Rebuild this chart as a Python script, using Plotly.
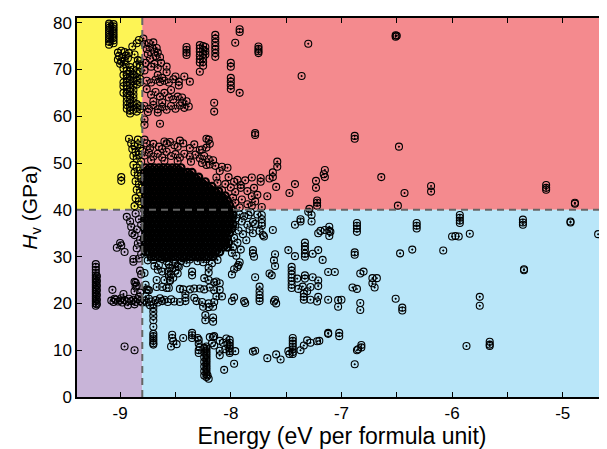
import plotly.graph_objects as go

# ---------------- data (energy in eV per formula unit, Hv in GPa) ----------------
E_CUT = -8.8
HV_CUT = 40.0
X_RANGE = [-9.39, -4.6]
Y_RANGE = [0, 81]
x_tick_vals = [-9, -8, -7, -6, -5]
x_tick_text = ["-9", "-8", "-7", "-6", "-5"]
y_tick_vals = [0, 10, 20, 30, 40, 50, 60, 70, 80]
y_tick_text = ["0", "10", "20", "30", "40", "50", "60", "70", "80"]

# stacked columns: (energy, [hardness values])
columns = [
    (-9.10, [75.3, 75.9, 76.4, 76.9, 77.4, 77.9, 78.4, 78.9, 79.4, 79.8]),
    (-9.06, [75.6, 76.2, 76.7, 77.2, 77.7, 78.2, 78.7, 79.2, 79.7]),
    (-8.97, [70.2, 68.8, 67.2, 66.4, 65.0]),
    (-8.94, [69.8, 69.0, 68.1, 67.3, 66.6, 65.8, 64.9, 64.1, 63.2, 62.4, 61.6]),
    (-8.91, [70.5, 69.6, 68.5, 67.8, 66.9, 66.0, 65.3, 64.4, 63.6, 62.8, 62.0, 61.2, 60.6]),
    (-8.88, [70.0, 68.9, 68.2, 67.5, 66.5, 65.6, 64.7, 63.9, 63.0, 62.2, 61.4]),
    (-8.85, [71.0, 69.2, 68.4, 67.6, 66.8, 62.6, 61.8, 61.0]),
    (-8.82, [71.8, 70.8, 69.5, 68.0, 67.2, 62.2, 61.5]),
    (-8.40, [74.8, 74.2, 73.6, 73.1]),
    (-8.28, [75.2, 74.5, 73.8, 73.0, 72.2, 71.5]),
    (-8.25, [75.0, 74.2, 73.3, 72.4, 71.6, 70.8]),
    (-8.23, [74.8, 73.9, 73.2]),
    (-8.14, [77.4, 76.6, 75.8, 75.0, 74.3, 73.5, 72.7]),
    (-7.75, [74.9, 74.4, 73.9, 73.5]),
    (-8.00, [71.4, 70.6, 68.2, 67.4, 66.6, 65.8]),
    (-9.22, [19.5, 20.0, 20.5, 21.0, 21.5, 22.0, 22.5, 23.0, 23.5, 24.0, 24.5,
             25.0, 25.5, 26.0, 26.6, 27.2, 27.8, 28.4]),
    (-9.21, [19.8, 20.8, 21.8, 22.8, 23.8, 24.8, 25.8]),
    (-8.70, [19.8, 19.0, 18.2, 17.3, 16.4, 15.0, 13.5, 13.0, 12.5, 12.0, 11.5, 11.2]),
    (-8.22, [10.8, 10.3, 9.8, 9.3, 8.8, 8.3, 7.8, 7.3, 6.8, 6.3, 5.8, 5.3, 4.8, 4.3]),
    (-8.24, [10.5, 9.5, 8.5, 7.5, 6.5, 5.5, 4.6]),
    (-8.01, [12.2, 11.6, 11.0, 10.4, 9.8, 9.4]),
    (-7.74, [23.6, 22.6, 21.8, 21.1, 20.5]),
    (-7.44, [12.6, 12.0, 11.4, 10.8, 10.2, 9.6, 9.2]),
    (-7.72, [38.9, 38.0, 37.2, 36.6]),
    (-7.33, [33.0, 32.2, 31.5, 30.6, 30.0]),
    (-7.11, [36.4, 35.5, 34.4]),
    (-7.45, [27.8, 27.0, 26.2, 25.5, 24.8, 24.0, 23.3]),
    (-6.86, [37.2, 36.6, 36.0, 35.3]),
    (-6.32, [37.2, 36.6, 36.0]),
    (-5.93, [38.9, 38.3, 37.7, 37.2]),
    (-5.36, [37.9, 37.3, 36.8]),
]

# high hardness, very low energy (yellow quadrant)
yellow_points = [
    (-9.02, 73.6), (-8.99, 74.0), (-8.96, 73.7), (-9.01, 72.9), (-8.98, 72.6), (-8.95, 72.9),
    (-9.02, 72.1), (-8.99, 71.7), (-8.96, 71.9), (-8.93, 72.4), (-9.00, 71.2), (-8.95, 71.1),
    (-8.92, 73.5), (-8.89, 74.9), (-8.85, 75.6), (-8.83, 76.3), (-8.87, 73.2), (-8.84, 72.0),
    (-8.92, 55.2), (-8.90, 54.2), (-8.87, 53.6), (-8.84, 54.0), (-8.82, 53.2), (-8.89, 53.0),
    (-8.86, 52.4), (-8.83, 51.8), (-8.80, 52.6), (-8.88, 51.5), (-8.85, 50.9), (-8.81, 50.3),
    (-8.84, 55.0), (-8.99, 47.0), (-8.99, 46.2),
    (-8.88, 49.6), (-8.85, 49.0), (-8.82, 48.4), (-8.87, 48.0), (-8.84, 47.3), (-8.81, 46.6),
    (-8.86, 46.1), (-8.83, 45.4), (-8.80, 44.8), (-8.85, 44.3), (-8.82, 43.7), (-8.86, 42.5),
    (-8.83, 41.8), (-8.81, 41.2), (-8.87, 40.8),
]

# high hardness (red quadrant), outside the dense cloud
red_points = [
    (-8.79, 76.6), (-8.78, 75.5), (-8.76, 74.4), (-8.75, 73.3), (-8.73, 72.3), (-8.74, 75.6),
    (-8.71, 74.7), (-8.69, 73.8), (-8.68, 72.9), (-8.66, 73.6), (-8.64, 72.6), (-8.77, 71.4),
    (-8.72, 70.6), (-8.69, 71.2), (-8.66, 70.3), (-8.78, 69.8), (-8.63, 71.4), (-8.70, 75.8),
    (-8.67, 74.6), (-8.58, 70.6), (-8.58, 69.4),
    (-8.42, 68.5), (-8.37, 67.4), (-8.47, 67.4), (-8.47, 66.6), (-8.44, 64.0), (-8.44, 62.9),
    (-8.40, 63.2), (-8.28, 69.5), (-8.15, 62.9), (-8.15, 61.0),
    (-7.92, 78.6), (-7.92, 78.0), (-7.96, 75.7), (-7.92, 65.0),
    (-7.30, 75.5), (-7.36, 68.6), (-6.51, 77.3), (-6.51, 77.0), (-6.50, 77.2),
    (-7.78, 56.4), (-7.78, 56.0), (-6.88, 55.8), (-6.88, 55.2), (-6.48, 53.5),
    (-8.76, 67.6), (-8.72, 67.2), (-8.68, 67.8), (-8.64, 67.3), (-8.60, 67.6), (-8.56, 67.2),
    (-8.52, 67.9), (-8.50, 68.5), (-8.66, 68.8), (-8.62, 68.2),
    (-8.76, 65.8), (-8.72, 64.6), (-8.68, 65.2), (-8.64, 64.2), (-8.60, 65.0), (-8.56, 64.0),
    (-8.52, 63.6), (-8.70, 63.2), (-8.62, 63.0), (-8.48, 64.2), (-8.54, 65.6),
    (-8.78, 62.2), (-8.74, 61.6), (-8.70, 62.4), (-8.66, 61.5), (-8.62, 62.0), (-8.58, 61.4),
    (-8.54, 62.2), (-8.50, 61.6), (-8.46, 62.3), (-8.42, 61.8), (-8.38, 62.1), (-8.75, 60.9),
    (-8.66, 60.8), (-8.78, 59.3), (-8.78, 58.2), (-8.64, 58.4),
    (-8.78, 55.0), (-8.76, 54.2), (-8.70, 54.1), (-8.65, 53.5), (-8.60, 54.6), (-8.58, 54.2),
    (-8.55, 54.5), (-8.51, 53.8), (-8.48, 53.5), (-8.46, 54.8), (-8.43, 54.2), (-8.37, 53.2),
    (-8.33, 54.0), (-8.28, 52.8), (-8.20, 55.0), (-8.22, 55.2), (-8.22, 53.3), (-8.19, 54.1),
    (-8.26, 52.9), (-8.73, 53.2), (-8.62, 53.0),
    (-8.78, 51.6), (-8.74, 52.2), (-8.70, 51.4), (-8.66, 52.0), (-8.62, 51.2), (-8.58, 52.4),
    (-8.54, 51.5), (-8.50, 51.9), (-8.46, 51.2), (-8.42, 52.0), (-8.37, 51.4), (-8.32, 51.8),
    (-8.28, 51.0), (-8.24, 51.5), (-8.20, 50.8), (-8.16, 50.6), (-8.72, 50.6), (-8.60, 50.5),
    (-8.48, 50.4), (-8.36, 50.3),
    (-8.26, 50.0), (-8.22, 49.6), (-8.19, 49.7), (-8.14, 49.4), (-8.08, 49.2), (-8.03, 49.0),
    (-8.10, 48.3), (-8.13, 46.9), (-8.02, 47.0), (-7.97, 46.0), (-7.94, 46.4), (-7.91, 45.3),
    (-7.91, 44.7), (-7.87, 46.3), (-7.81, 46.9), (-7.79, 44.7), (-7.73, 46.8), (-7.73, 46.0),
    (-7.65, 46.7), (-7.62, 48.0), (-7.62, 47.0), (-7.59, 44.9), (-7.58, 50.3), (-7.58, 49.2),
    (-7.96, 43.8), (-7.98, 42.6), (-8.05, 45.5), (-8.08, 44.2), (-8.12, 45.8), (-8.00, 44.8),
    (-7.85, 44.0), (-7.47, 43.6), (-7.42, 45.5), (-7.23, 46.2), (-7.23, 44.7), (-7.15, 48.5),
    (-7.16, 47.6), (-7.15, 47.0), (-7.67, 42.9), (-7.76, 43.2), (-7.81, 42.9), (-7.81, 40.9),
    (-7.22, 42.0), (-7.22, 41.5), (-7.22, 40.9), (-7.29, 40.2),
    (-7.96, 41.5), (-7.90, 42.2), (-7.85, 41.2), (-7.78, 41.8), (-7.72, 40.6), (-7.92, 40.5),
    (-6.64, 47.0), (-6.43, 43.6), (-6.19, 45.1), (-6.19, 43.9), (-6.49, 40.9),
    (-5.15, 45.3), (-5.15, 44.7), (-5.15, 44.3), (-4.89, 41.5), (-4.89, 41.3),
]

# low hardness, very low energy (purple quadrant)
purple_points = [
    (-9.08, 20.6), (-9.06, 20.3), (-9.04, 20.8), (-9.02, 20.4), (-9.00, 20.6), (-8.98, 20.2),
    (-8.96, 20.7), (-8.94, 20.4), (-8.92, 21.0), (-8.90, 20.5), (-8.88, 20.8), (-8.86, 20.3),
    (-8.84, 20.9), (-8.82, 20.5), (-8.80, 20.2), (-9.05, 21.0), (-8.99, 21.1), (-8.93, 19.6),
    (-8.87, 19.8), (-8.83, 21.4),
    (-9.07, 22.9), (-8.97, 22.0), (-8.86, 24.4), (-8.86, 23.6), (-8.88, 28.9), (-8.88, 29.5),
    (-8.96, 10.8), (-8.87, 10.0), (-8.91, 37.5), (-8.90, 36.4), (-8.89, 35.0), (-8.87, 34.6),
    (-9.00, 32.9), (-9.03, 31.9), (-8.99, 32.4), (-8.96, 31.0), (-8.85, 31.8), (-8.86, 39.2),
    (-8.94, 38.5), (-8.85, 35.8), (-8.83, 38.0), (-8.81, 36.8), (-8.82, 33.6), (-8.84, 32.8),
    (-8.81, 30.5), (-8.83, 29.6), (-8.82, 27.0), (-8.81, 26.2), (-8.87, 22.6), (-8.82, 22.3),
    (-8.87, 24.6), (-8.85, 23.8),
]

# low hardness (blue quadrant), outside the dense cloud
blue_points = [
    (-8.78, 26.5), (-8.77, 24.0), (-8.76, 23.0), (-8.74, 22.8), (-8.75, 29.2), (-8.70, 29.3),
    (-8.69, 28.0), (-8.65, 28.2), (-8.67, 25.0), (-8.62, 26.8), (-8.60, 25.0), (-8.59, 29.7),
    (-8.58, 23.3), (-8.62, 23.5), (-8.56, 23.3), (-8.55, 25.0), (-8.53, 27.5), (-8.50, 28.6),
    (-8.48, 26.4), (-8.46, 23.1), (-8.43, 23.0), (-8.37, 23.0), (-8.33, 23.2), (-8.28, 23.2),
    (-8.24, 23.0), (-8.19, 23.4), (-8.15, 22.8), (-8.10, 22.9), (-8.41, 22.0), (-8.41, 21.2),
    (-8.41, 20.5), (-8.31, 20.5), (-8.33, 21.2), (-8.35, 26.8), (-8.35, 26.0), (-8.20, 27.6),
    (-8.20, 26.6), (-8.24, 25.4), (-8.20, 25.0), (-8.13, 24.7), (-8.10, 24.3), (-8.15, 24.5),
    (-7.99, 26.2), (-7.97, 27.3), (-7.93, 28.2), (-7.92, 28.8), (-7.94, 27.8),
    (-8.58, 29.0), (-8.56, 28.3), (-8.55, 27.6), (-8.57, 26.8), (-8.54, 26.2), (-8.52, 25.5),
    (-8.56, 25.8), (-8.50, 27.0), (-8.48, 28.0), (-8.45, 29.0), (-8.47, 27.8), (-8.52, 29.4),
    (-8.62, 29.5), (-8.66, 27.2), (-8.42, 29.6), (-8.40, 28.6), (-8.37, 29.4), (-8.30, 29.0),
    (-8.25, 28.8), (-8.22, 29.5), (-8.17, 28.6), (-8.12, 29.3),
    (-8.78, 20.6), (-8.76, 20.2), (-8.74, 21.0), (-8.72, 20.4), (-8.68, 20.7), (-8.66, 20.2),
    (-8.64, 21.1), (-8.62, 20.5), (-8.60, 20.8), (-8.57, 20.3), (-8.54, 20.9), (-8.51, 20.4),
    (-8.77, 21.5), (-8.73, 19.6),
    (-8.75, 22.9), (-8.67, 23.5), (-8.55, 24.8), (-8.46, 20.3), (-8.26, 20.3), (-8.25, 19.3),
    (-8.20, 20.0), (-8.20, 19.2), (-8.16, 19.3), (-8.23, 17.5), (-8.23, 16.4), (-8.16, 17.0),
    (-8.16, 16.1), (-8.15, 20.3), (-8.13, 21.5), (-8.08, 21.5), (-7.99, 20.5), (-7.97, 21.3),
    (-7.87, 20.1), (-7.88, 20.5),
    (-7.61, 20.4), (-7.60, 20.8), (-7.59, 20.0), (-7.78, 25.6), (-7.65, 26.4), (-7.63, 26.0),
    (-7.80, 31.4), (-7.80, 30.7), (-7.79, 30.0), (-7.60, 30.5), (-7.61, 29.2), (-7.60, 28.0),
    (-8.53, 13.3), (-8.53, 12.6), (-8.52, 11.9), (-8.54, 10.8), (-8.49, 11.3), (-8.43, 12.6),
    (-8.35, 13.7), (-8.35, 13.2), (-8.35, 12.6), (-8.30, 12.6), (-8.29, 12.2), (-8.29, 11.4),
    (-8.28, 10.6), (-8.29, 10.0), (-8.29, 9.4), (-8.20, 3.9), (-8.21, 4.6),
    (-8.19, 12.8), (-8.16, 12.8), (-8.17, 11.5), (-8.15, 13.0), (-8.15, 11.0), (-8.10, 12.0),
    (-8.07, 11.6), (-8.05, 10.2), (-8.04, 12.5), (-8.03, 11.3),
    (-7.96, 9.8), (-8.06, 5.8), (-7.97, 7.1), (-8.10, 9.9), (-8.10, 8.9), (-7.80, 9.7),
    (-7.78, 9.9), (-7.67, 8.3), (-7.59, 9.1), (-7.55, 8.0), (-7.47, 9.2),
    (-7.48, 9.8), (-7.37, 10.0), (-7.34, 11.0), (-7.31, 12.1), (-7.28, 11.6), (-7.22, 11.9),
    (-7.20, 12.0), (-7.12, 13.7), (-7.12, 13.5), (-7.02, 13.7), (-7.02, 13.0), (-6.86, 10.0),
    (-6.85, 10.2), (-6.82, 11.1), (-6.82, 10.6), (-6.88, 7.0), (-5.87, 10.9), (-5.66, 11.8),
    (-5.66, 11.2), (-5.66, 10.9),
    (-7.80, 37.4), (-7.78, 37.0), (-7.62, 35.7), (-7.80, 35.0), (-7.71, 34.6), (-7.70, 34.3),
    (-7.42, 36.8), (-7.37, 38.0), (-7.37, 37.5), (-7.30, 39.6), (-7.27, 38.9), (-7.27, 37.5),
    (-7.48, 31.4), (-7.42, 30.1), (-7.26, 30.6), (-7.21, 31.4), (-7.17, 29.3), (-7.19, 35.5),
    (-7.15, 35.7), (-7.21, 35.0), (-7.10, 35.3),
    (-7.40, 25.3), (-7.33, 26.0), (-7.33, 25.3), (-7.35, 23.6), (-7.39, 23.1), (-7.34, 22.1),
    (-7.34, 21.4), (-7.26, 25.6), (-7.21, 24.9), (-7.21, 23.7), (-7.28, 23.5), (-7.31, 22.6),
    (-7.28, 20.8), (-7.22, 20.4), (-7.21, 21.4), (-7.34, 20.8), (-7.12, 20.8), (-7.12, 26.7),
    (-7.06, 26.7), (-7.03, 20.7), (-7.03, 19.3), (-7.00, 20.8), (-6.90, 23.4), (-6.86, 23.1),
    (-6.83, 20.1), (-6.83, 18.6), (-6.83, 26.4), (-6.80, 26.8), (-6.72, 25.4), (-6.72, 24.3),
    (-6.70, 23.4), (-6.68, 25.4), (-6.51, 21.0), (-6.45, 19.1), (-6.45, 18.5),
    (-6.88, 30.9), (-6.88, 30.4), (-6.47, 30.7), (-6.36, 31.5), (-6.08, 31.3),
    (-6.00, 34.3), (-5.94, 34.3), (-5.97, 34.4), (-5.84, 34.9), (-4.93, 37.3), (-4.93, 37.5),
    (-4.68, 34.8), (-5.35, 27.3), (-5.35, 27.1), (-5.75, 21.4), (-5.75, 19.5),
    (-7.98, 39.2), (-7.95, 38.2), (-7.92, 39.0), (-7.90, 37.5), (-7.88, 38.6), (-7.85, 36.8),
    (-7.96, 36.5), (-7.93, 35.6), (-7.89, 34.8), (-7.97, 34.0), (-7.94, 33.0), (-7.86, 33.5),
    (-7.83, 35.8), (-7.98, 32.0), (-7.91, 31.5), (-7.84, 38.9), (-7.82, 39.5), (-7.76, 39.0),
    (-7.74, 35.5), (-7.99, 30.8), (-7.95, 30.2),
]

# dense cloud around -8.8..-8.0 eV, 30..49 GPa: rows (hardness, [energies])
cloud_rows = [
    (30.0, [-8.72, -8.68, -8.64, -8.60, -8.56, -8.52, -8.48, -8.44, -8.40, -8.36, -8.32,
            -8.28, -8.24, -8.20, -8.16]),
    (31.0, [-8.77, -8.74, -8.70, -8.66, -8.62, -8.58, -8.54, -8.50, -8.46, -8.42, -8.38,
            -8.34, -8.30, -8.26, -8.22, -8.18, -8.14, -8.10]),
    (32.0, [-8.78, -8.75, -8.71, -8.67, -8.63, -8.59, -8.55, -8.51, -8.47, -8.43, -8.39,
            -8.35, -8.31, -8.27, -8.23, -8.19, -8.15, -8.11, -8.07, -8.03]),
    (33.0, [-8.77, -8.73, -8.69, -8.65, -8.61, -8.57, -8.53, -8.49, -8.45, -8.41, -8.37,
            -8.33, -8.29, -8.25, -8.21, -8.17, -8.13, -8.09, -8.05, -8.02]),
    (34.0, [-8.78, -8.75, -8.71, -8.67, -8.63, -8.59, -8.55, -8.51, -8.47, -8.43, -8.39,
            -8.35, -8.31, -8.27, -8.23, -8.19, -8.15, -8.11, -8.07, -8.03]),
    (35.0, [-8.77, -8.73, -8.69, -8.65, -8.61, -8.57, -8.53, -8.49, -8.45, -8.41, -8.37,
            -8.33, -8.29, -8.25, -8.21, -8.17, -8.13, -8.09, -8.05, -8.01]),
    (36.0, [-8.78, -8.75, -8.71, -8.67, -8.63, -8.59, -8.55, -8.51, -8.47, -8.43, -8.39,
            -8.35, -8.31, -8.27, -8.23, -8.19, -8.15, -8.11, -8.07, -8.03, -7.99]),
    (37.0, [-8.77, -8.73, -8.69, -8.65, -8.61, -8.57, -8.53, -8.49, -8.45, -8.41, -8.37,
            -8.33, -8.29, -8.25, -8.21, -8.17, -8.13, -8.09, -8.05, -8.01, -7.98]),
    (38.0, [-8.78, -8.75, -8.71, -8.67, -8.63, -8.59, -8.55, -8.51, -8.47, -8.43, -8.39,
            -8.35, -8.31, -8.27, -8.23, -8.19, -8.15, -8.11, -8.07, -8.03, -7.99]),
    (39.0, [-8.77, -8.73, -8.69, -8.65, -8.61, -8.57, -8.53, -8.49, -8.45, -8.41, -8.37,
            -8.33, -8.29, -8.25, -8.21, -8.17, -8.13, -8.09, -8.05, -8.01, -7.98]),
    (40.0, [-8.78, -8.75, -8.71, -8.67, -8.63, -8.59, -8.55, -8.51, -8.47, -8.43, -8.39,
            -8.35, -8.31, -8.27, -8.23, -8.19, -8.15, -8.11, -8.07, -8.03, -7.99]),
    (41.0, [-8.77, -8.73, -8.69, -8.65, -8.61, -8.57, -8.53, -8.49, -8.45, -8.41, -8.37,
            -8.33, -8.29, -8.25, -8.21, -8.17, -8.13, -8.09, -8.05, -8.01]),
    (42.0, [-8.78, -8.75, -8.71, -8.67, -8.63, -8.59, -8.55, -8.51, -8.47, -8.43, -8.39,
            -8.35, -8.31, -8.27, -8.23, -8.19, -8.15, -8.11, -8.07, -8.03]),
    (43.0, [-8.77, -8.73, -8.69, -8.65, -8.61, -8.57, -8.53, -8.49, -8.45, -8.41, -8.37,
            -8.33, -8.29, -8.25, -8.21, -8.17, -8.13, -8.09, -8.05]),
    (44.0, [-8.78, -8.75, -8.71, -8.67, -8.63, -8.59, -8.55, -8.51, -8.47, -8.43, -8.39,
            -8.35, -8.31, -8.27, -8.23, -8.19, -8.15, -8.11]),
    (45.0, [-8.77, -8.73, -8.69, -8.65, -8.61, -8.57, -8.53, -8.49, -8.45, -8.41, -8.37,
            -8.33, -8.29, -8.25, -8.21, -8.17]),
    (46.0, [-8.78, -8.75, -8.71, -8.67, -8.63, -8.59, -8.55, -8.51, -8.47, -8.43, -8.39,
            -8.35, -8.31, -8.27, -8.23]),
    (47.0, [-8.77, -8.73, -8.69, -8.65, -8.61, -8.57, -8.53, -8.49, -8.45, -8.41, -8.37,
            -8.33, -8.29]),
    (48.0, [-8.78, -8.75, -8.71, -8.67, -8.63, -8.59, -8.55, -8.51, -8.47, -8.43, -8.39,
            -8.35]),
    (49.0, [-8.77, -8.73, -8.69, -8.65, -8.61, -8.57, -8.53, -8.49, -8.45]),
]

# ---------------- assemble ----------------
energy, hardness = [], []
for e, hvs in columns:
    for h in hvs:
        energy.append(e)
        hardness.append(h)
for group in (yellow_points, red_points, purple_points, blue_points):
    for e, h in group:
        energy.append(e)
        hardness.append(h)
cloud_energy, cloud_hardness = [], []
for h, es in cloud_rows:
    for e in es:
        cloud_energy.append(e)
        cloud_hardness.append(h)

YELLOW = "#FDF455"
RED = "#F48A8E"
PURPLE = "#C8B4D8"
BLUE = "#B9E6F9"

fig = go.Figure()
fig.add_trace(go.Scatter(
    x=cloud_energy, y=cloud_hardness, mode="markers",
    marker=dict(symbol="circle-open-dot", size=7, color="black",
                line=dict(width=2.2, color="black")),
    hoverinfo="skip", showlegend=False,
))
fig.add_trace(go.Scatter(
    x=energy, y=hardness, mode="markers",
    marker=dict(symbol="circle-open-dot", size=7, color="black",
                line=dict(width=1.1, color="black")),
    hoverinfo="skip", showlegend=False,
))

shapes = [
    dict(type="rect", xref="x", yref="y", x0=X_RANGE[0], x1=E_CUT, y0=HV_CUT, y1=Y_RANGE[1],
         fillcolor=YELLOW, line_width=0, layer="below"),
    dict(type="rect", xref="x", yref="y", x0=E_CUT, x1=X_RANGE[1], y0=HV_CUT, y1=Y_RANGE[1],
         fillcolor=RED, line_width=0, layer="below"),
    dict(type="rect", xref="x", yref="y", x0=X_RANGE[0], x1=E_CUT, y0=Y_RANGE[0], y1=HV_CUT,
         fillcolor=PURPLE, line_width=0, layer="below"),
    dict(type="rect", xref="x", yref="y", x0=E_CUT, x1=X_RANGE[1], y0=Y_RANGE[0], y1=HV_CUT,
         fillcolor=BLUE, line_width=0, layer="below"),
    dict(type="line", xref="x", yref="y", x0=E_CUT, x1=E_CUT, y0=Y_RANGE[0], y1=Y_RANGE[1],
         line=dict(color="#666666", width=2, dash="7px,5px"), layer="above"),
    dict(type="line", xref="x", yref="y", x0=X_RANGE[0], x1=X_RANGE[1], y0=HV_CUT, y1=HV_CUT,
         line=dict(color="#666666", width=2, dash="7px,5px"), layer="above"),
]

# the page body adds an 8px margin, so the figure is 8px smaller than the window
FONT = "Liberation Sans, Arial, Helvetica, sans-serif"
fig.update_layout(
    width=599, height=441,
    margin=dict(l=69, r=0, t=10, b=52),
    paper_bgcolor="white", plot_bgcolor="white",
    shapes=shapes,
    font=dict(family=FONT, size=17, color="black"),
    xaxis=dict(
        range=X_RANGE, tickvals=x_tick_vals, ticktext=x_tick_text,
        ticks="inside", ticklen=5, tickwidth=1, tickcolor="black",
        minor=dict(dtick=0.5, tick0=-9, ticks="inside", ticklen=5, tickcolor="black", showgrid=False),
        showline=True, linecolor="black", linewidth=1.5, mirror="allticks",
        showgrid=False, zeroline=False, automargin=False,
        title=dict(text="Energy (eV per formula unit)", font=dict(size=23), standoff=3),
    ),
    yaxis=dict(
        range=Y_RANGE, tickvals=y_tick_vals, ticktext=y_tick_text,
        ticks="inside", ticklen=5, tickwidth=1, tickcolor="black",
        showline=True, linecolor="black", linewidth=1.5, mirror=False,
        showgrid=False, zeroline=False, automargin=False,
        title=dict(text="<i>H</i><sub>v</sub> (GPa)", font=dict(size=21), standoff=10),
    ),
)

fig.write_html("out.html")
